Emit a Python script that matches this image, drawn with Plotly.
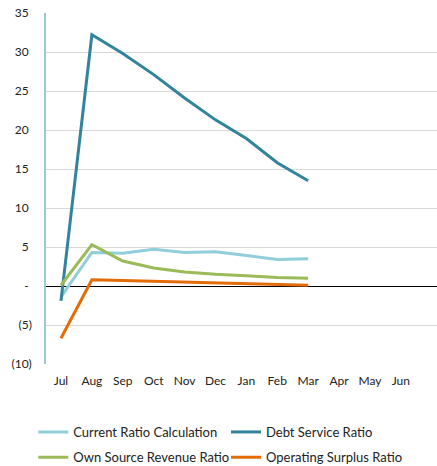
import plotly.graph_objects as go

months = ["Jul", "Aug", "Sep", "Oct", "Nov", "Dec", "Jan", "Feb", "Mar", "Apr", "May", "Jun"]

current_ratio = [-1.4, 4.3, 4.2, 4.7, 4.3, 4.4, 3.9, 3.4, 3.5, None, None, None]
debt_service = [-1.9, 32.2, 29.8, 27.1, 24.1, 21.3, 18.9, 15.8, 13.5, None, None, None]
own_source = [0.1, 5.3, 3.2, 2.3, 1.8, 1.5, 1.3, 1.1, 1.0, None, None, None]
operating_surplus = [-6.7, 0.8, 0.7, 0.6, 0.5, 0.4, 0.3, 0.2, 0.1, None, None, None]

y_tickvals = [-10, -5, 0, 5, 10, 15, 20, 25, 30, 35]
y_ticktext = ["(10)", "(5)", "-\u00a0", "5\u00a0", "10\u00a0", "15\u00a0", "20\u00a0", "25\u00a0", "30\u00a0", "35\u00a0"]

series_names = ["Current Ratio Calculation", "Debt Service Ratio", "Own Source Revenue Ratio", "Operating Surplus Ratio"]
series_values = [current_ratio, debt_service, own_source, operating_surplus]
series_colors = ["#92CDDC", "#31849B", "#9BBB59", "#E36C09"]
legend_ids = ["legend", "legend2", "legend3", "legend4"]

fig = go.Figure()
for name, vals, color, lg in zip(series_names, series_values, series_colors, legend_ids):
    fig.add_trace(go.Scatter(
        x=list(range(len(months))), y=vals, name=name, mode="lines",
        line=dict(color=color, width=3), legend=lg,
    ))

family = "Lato, Liberation Sans, sans-serif"
font = dict(family=family, size=13, color="#222222")
lc = dict(orientation="h", xanchor="left", yanchor="middle",
          font=font, bgcolor="rgba(0,0,0,0)", itemwidth=30)

col1 = -0.0325
col2 = 0.4604
row1 = -0.1937
row2 = -0.266

fig.update_layout(
    width=437, height=466,
    margin=dict(l=46, r=0, t=13, b=102, autoexpand=False),
    paper_bgcolor="white", plot_bgcolor="white",
    font=font,
    showlegend=True,
    legend=dict(x=col1, y=row1, **lc),
    legend2=dict(x=col2, y=row1, **lc),
    legend3=dict(x=col1, y=row2, **lc),
    legend4=dict(x=col2, y=row2, **lc),
    xaxis=dict(
        tickmode="array", tickvals=list(range(len(months))), ticktext=months,
        range=[-0.485, 12.17], showgrid=False, zeroline=False, showline=False,
        ticks="", tickfont=dict(size=12, family=family, color="#222222"),
        ticklabelstandoff=8, automargin=False,
    ),
    yaxis=dict(
        range=[-10, 35], tickmode="array", tickvals=y_tickvals, ticktext=y_ticktext,
        showgrid=True, gridcolor="#D9D9D9", gridwidth=1,
        zeroline=True, zerolinecolor="#000000", zerolinewidth=1,
        showline=True, linecolor="#9CC8D4", linewidth=1.5,
        ticks="", tickfont=dict(size=12, family=family, color="#222222"),
        ticklabelstandoff=10, automargin=False, ticklabeloverflow="allow",
    ),
)

# remove the browser's default 8px body margin so the figure fills the window
fig.write_html("out.html", config={"displayModeBar": False},
               post_script="document.body.style.margin='0px';")
